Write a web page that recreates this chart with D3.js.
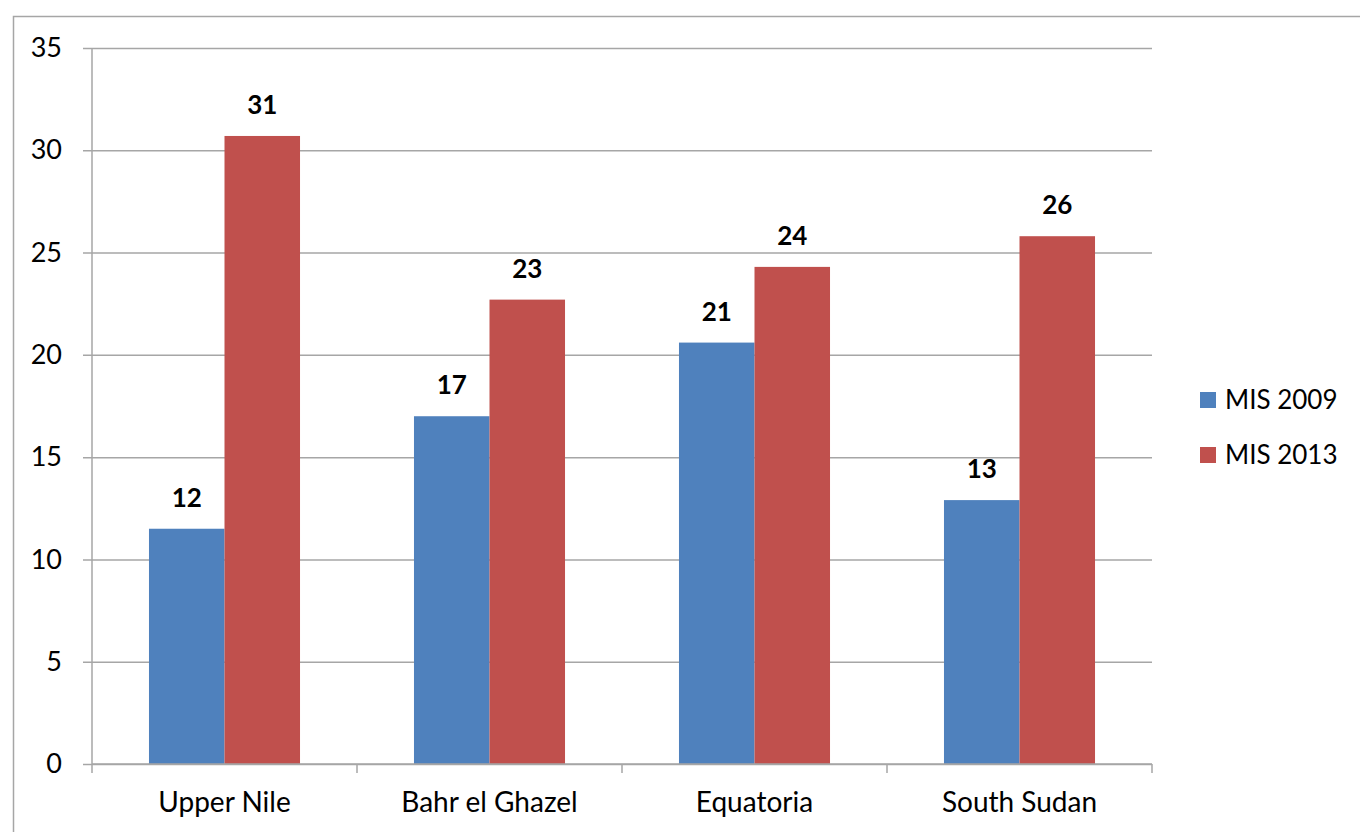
<!DOCTYPE html>
<html>
<head>
<meta charset="utf-8">
<script src="https://cdn.jsdelivr.net/npm/d3@7"></script>
<style>
  html, body { margin: 0; padding: 0; background: #fff; }
  svg { display: block; font-family: Lato, "Open Sans", sans-serif; }
</style>
</head>
<body>
<svg id="chart" width="1360" height="832"></svg>
<script>
// Regions and survey values
const regions = ["Upper Nile", "Bahr el Ghazel", "Equatoria", "South Sudan"];
const seriesNames = ["MIS 2009", "MIS 2013"];
const mis2009 = [11.5, 17.0, 20.6, 12.9];
const mis2013 = [30.7, 22.7, 24.3, 25.8];
const yTicks = [0, 5, 10, 15, 20, 25, 30, 35];
const colors = ["#4f81bd", "#c0504d"];

const seriesValues = [mis2009, mis2013];
const rows = regions.map((r, i) => ({ region: r, values: seriesValues.map(s => s[i]) }));

const svg = d3.select("#chart");
const margin = { left: 92, right: 208, top: 48, bottom: 68 };
const W = 1360, H = 832;
const fontSize = 27;

// Outer chart frame (left and top edges visible)
svg.append("path")
  .attr("d", `M13.5,${H} V16.5 H${W}`)
  .attr("fill", "none")
  .attr("stroke", "#a6a6a6")
  .attr("stroke-width", 1.5);

const x0 = d3.scaleBand().domain(regions).range([margin.left, W - margin.right]);
const x1 = d3.scaleBand().domain(seriesNames).range([0, x0.bandwidth() * 0.57]);
const y = d3.scaleLinear().domain([0, 35]).range([H - margin.bottom, margin.top]);

// Horizontal gridlines
const yAxis = d3.axisLeft(y).tickValues(yTicks).tickSize(-(W - margin.right - margin.left)).tickPadding(30);
const gy = svg.append("g").attr("transform", `translate(${margin.left},0)`).call(yAxis);
gy.select(".domain").remove();
gy.selectAll(".tick line").attr("stroke", "#a6a6a6").attr("stroke-width", 1.5).attr("x1", -9);
gy.selectAll(".tick text").attr("font-size", fontSize).attr("fill", "#000").attr("font-family", "Lato, sans-serif");

// Vertical axis line
svg.append("line")
  .attr("x1", margin.left).attr("x2", margin.left)
  .attr("y1", y(35)).attr("y2", y(0))
  .attr("stroke", "#a6a6a6").attr("stroke-width", 1.5);

// Bars
const groups = svg.append("g").selectAll("g").data(rows).join("g")
  .attr("transform", d => `translate(${x0(d.region) + (x0.bandwidth() - x1.range()[1]) / 2},0)`);

groups.selectAll("rect").data(d => d.values.map((v, k) => ({ key: seriesNames[k], v, k }))).join("rect")
  .attr("x", d => x1(d.key))
  .attr("width", x1.bandwidth())
  .attr("y", d => y(d.v))
  .attr("height", d => y(0) - y(d.v))
  .attr("fill", d => colors[d.k]);

// Value labels
groups.selectAll("text").data(d => d.values.map((v, k) => ({ key: seriesNames[k], v, k }))).join("text")
  .attr("x", d => x1(d.key) + x1.bandwidth() / 2)
  .attr("y", d => y(d.v) - 22)
  .attr("text-anchor", "middle")
  .attr("font-size", 26)
  .attr("font-weight", "bold")
  .attr("fill", "#000")
  .text(d => d3.format(".0f")(d.v));

// Category axis
const xAxis = d3.axisBottom(x0).tickSize(0).tickPadding(28);
const gx = svg.append("g").attr("transform", `translate(0,${y(0)})`).call(xAxis);
gx.select(".domain").remove();
gx.selectAll(".tick text").attr("font-size", 28).attr("fill", "#000").attr("font-family", "Lato, sans-serif");

svg.append("line")
  .attr("x1", margin.left).attr("x2", W - margin.right)
  .attr("y1", y(0)).attr("y2", y(0))
  .attr("stroke", "#a6a6a6").attr("stroke-width", 1.5);

// Category separator ticks
const sepX = regions.map(r => x0(r)).concat([x0.range()[1]]);
svg.append("g").selectAll("line").data(sepX).join("line")
  .attr("x1", d => d).attr("x2", d => d)
  .attr("y1", y(0)).attr("y2", y(0) + 9)
  .attr("stroke", "#a6a6a6").attr("stroke-width", 1.5);

// Legend
const legend = svg.append("g").selectAll("g").data(seriesNames).join("g")
  .attr("transform", (d, i) => `translate(1200,${400 + i * 55})`);
legend.append("rect")
  .attr("x", 0).attr("y", -8).attr("width", 16).attr("height", 16)
  .attr("fill", (d, i) => colors[i]);
legend.append("text")
  .attr("x", 25).attr("y", 0).attr("dy", "0.35em")
  .attr("font-size", 26).attr("fill", "#000")
  .text(d => d);
</script>
</body>
</html>
